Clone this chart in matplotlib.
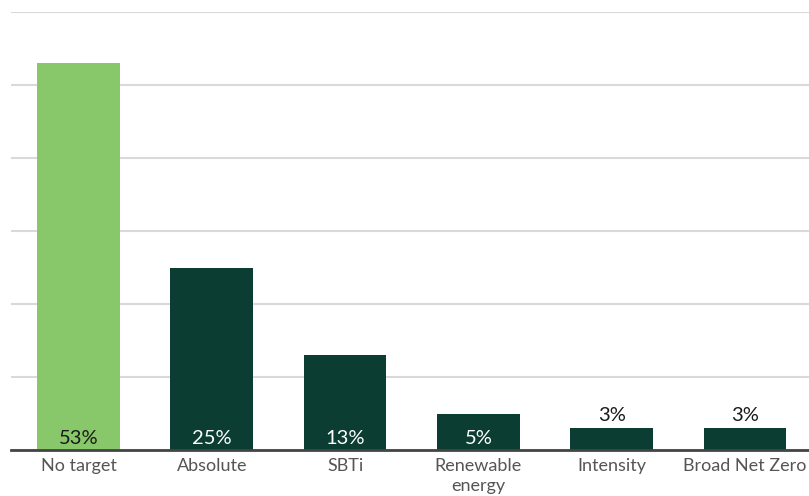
import numpy as np
import matplotlib.pyplot as plt

plt.rcParams['font.family'] = ['Lato', 'DejaVu Sans']

categories = ["No target", "Absolute", "SBTi", "Renewable\nenergy", "Intensity", "Broad Net Zero"]
values = [53, 25, 13, 5, 3, 3]
colors = ["#88c76a", "#0c3d33", "#0c3d33", "#0c3d33", "#0c3d33", "#0c3d33"]
label_colors = ["#1a1a1a", "white", "white", "white", "#1a1a1a", "#1a1a1a"]
inside = [True, True, True, True, False, False]

fig = plt.figure(figsize=(8.09, 4.96), dpi=100)
ax = fig.add_axes([11 / 809, 46 / 496, 798 / 809, 438 / 496])

x = np.arange(len(categories))
bars = ax.bar(x, values, width=0.62, color=colors, zorder=3)

for xi, v, c, ins in zip(x, values, label_colors, inside):
    if ins:
        ax.text(xi, 0.45, f"{v}%", ha="center", va="bottom", color=c, fontsize=14.5, zorder=4)
    else:
        ax.annotate(f"{v}%", (xi, v), xytext=(0, 3), textcoords="offset points",
                    ha="center", va="bottom", color=c, fontsize=14.5)

ax.set_xlim(-0.506, 5.48)
ax.set_ylim(0, 60)
ax.set_yticks(np.arange(0, 61, 10))
ax.set_yticklabels([])
ax.tick_params(axis="y", length=0)
ax.yaxis.grid(True, color="#d9d9d9", linewidth=1.5, zorder=0)
ax.set_axisbelow(True)

ax.set_xticks(x)
ax.set_xticklabels(categories, fontsize=13, color="#555555", linespacing=1.25)
ax.tick_params(axis="x", length=0, pad=6)

for s in ["top", "right", "left"]:
    ax.spines[s].set_visible(False)
ax.spines["bottom"].set_color("#444444")
ax.spines["bottom"].set_linewidth(2)
ax.spines["bottom"].set_zorder(5)

fig.savefig("out.png", dpi=100)
